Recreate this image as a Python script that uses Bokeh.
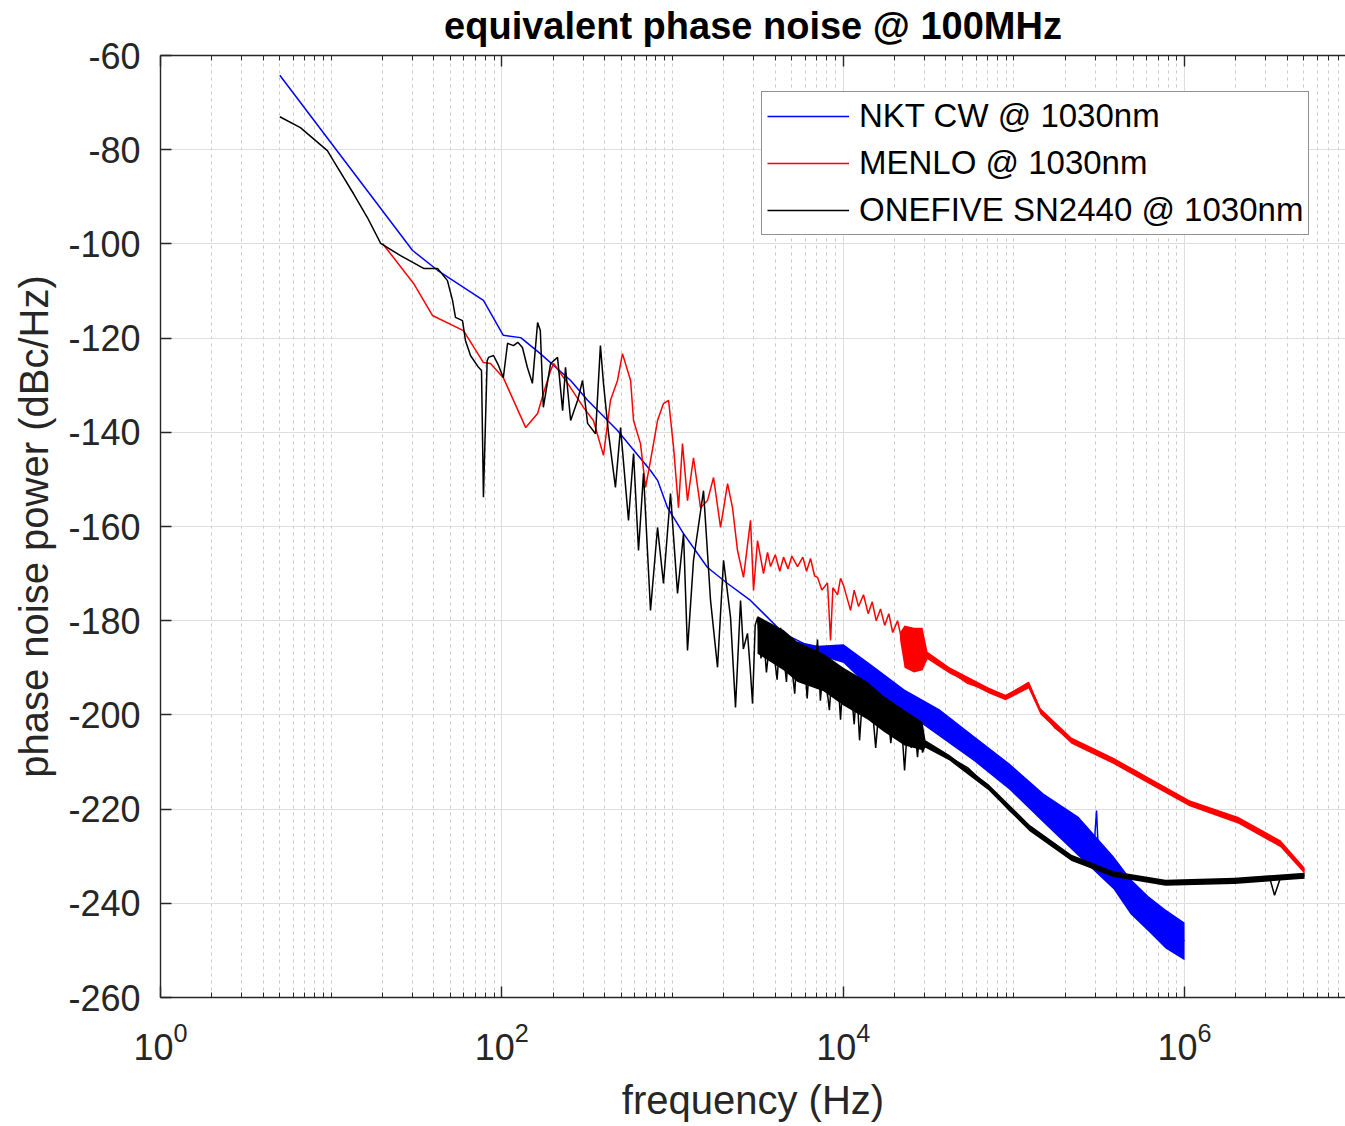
from bokeh.plotting import figure
from bokeh.models import FixedTicker, LogAxis, Legend, LegendItem
from bokeh.embed import file_html
from bokeh.resources import INLINE

# ---------------- data ----------------
x_ticks = [1, 100, 10000, 1000000]
y_ticks = [-260, -240, -220, -200, -180, -160, -140, -120, -100, -80, -60]
y_tick_labels = ["-260", "-240", "-220", "-200", "-180", "-160", "-140", "-120", "-100", "-80", "-60"]

nkt_freq = [5, 30, 42, 78, 102, 129, 168, 253, 318, 476, 743, 817, 935, 1160, 1603,
            2101, 2864, 3603, 4472, 7072, 10046, 14460, 22880, 36690, 58850, 94320,
            149200, 239300, 295000, 305000, 312000, 383700, 482700, 615200, 773900, 1000000]
nkt_psd = [-64.2, -101.4, -105.6, -112.0, -119.4, -119.9, -123.3, -129.0, -133.2, -139.6, -148.1,
           -150.2, -156.0, -161.5, -168.7, -172.1, -175.7, -179.3, -182.7, -186.3, -187.0, -191.8,
           -197.0, -201.7, -207.2, -213.1, -219.8, -225.8, -228.0, -220.3, -228.5, -233.6, -238.6,
           -242.3, -245.5, -248.0]
nkt_band_freq = [5401, 7072, 10046, 14460, 22880, 36690, 58850, 94320, 149200, 239300,
                 383700, 482700, 615200, 773900, 1000000]
nkt_band_hi = [-184.4, -185.3, -185.0, -189.2, -194.6, -198.8, -204.6, -210.3, -216.7, -221.6,
               -230.0, -234.8, -238.5, -241.3, -244.1]
nkt_band_lo = [-184.6, -187.3, -189.0, -194.5, -199.3, -204.6, -209.9, -215.9, -222.9, -230.0,
               -237.0, -242.3, -246.0, -249.6, -252.1]

menlo_freq = [20, 30.4, 39.2, 59.6, 78, 85.8, 102, 138, 162, 175, 193, 201, 243, 301, 344, 394,
              433, 476, 509, 568, 591, 649, 695, 743, 817, 885, 948, 1014, 1084, 1144, 1224, 1327,
              1459, 1603, 1739, 1911, 2101, 2246, 2403, 2606, 2864, 2983, 3148, 3413, 3603, 3752,
              4000, 4250, 4472, 4750, 5000, 5401, 5800, 6100, 6436, 6800, 7072, 7500, 8093, 8431,
              8700, 9265, 9647, 10046, 10500, 11040, 11600, 12300, 13150, 14000, 14800, 15600,
              16550, 17500, 18500, 19500, 20820, 22000, 29160, 32050, 41980, 53520, 71070, 89380,
              102300, 121900, 143300, 173100, 217700, 301000, 383700, 509300, 676100, 885800,
              1070000, 1561000, 2072000, 2750000, 3651000, 4411000, 5048000]
menlo_psd = [-99.9, -108.4, -115.2, -118.4, -125.2, -125.4, -128.4, -139.0, -136.0, -131.8,
             -126.9, -125.4, -129.6, -134.7, -137.5, -144.9, -133.2, -129.0, -123.3, -129.0,
             -137.5, -142.4, -151.7, -146.0, -137.5, -133.9, -133.2, -143.2, -156.0, -142.4,
             -154.5, -145.4, -156.0, -154.5, -149.6, -160.2, -150.9, -156.0, -165.1, -170.8,
             -158.7, -173.6, -163.0, -170.0, -165.5, -168.5, -166.0, -169.5, -166.5, -169.0,
             -166.3, -168.5, -166.5, -169.5, -166.8, -170.5, -170.8, -173.5, -172.0, -184.2,
             -173.0, -174.5, -171.0, -172.5, -175.0, -177.8, -173.5, -177.0, -174.5, -178.5,
             -176.0, -180.0, -177.5, -181.0, -178.5, -182.5, -180.0, -184.0, -185.7, -187.8,
             -190.6, -193.3, -194.8, -196.3, -194.8, -193.1, -199.1, -202.7, -205.4, -207.6,
             -209.7, -211.8, -214.6, -217.5, -218.8, -221.0, -222.4, -224.5, -227.3, -230.9,
             -233.0]
menlo_band_freq = [21500, 22880, 26000, 29160, 31190, 41980, 71070, 89380, 121900, 143300,
                   217700, 383700, 676100, 1070000, 2072000, 3651000, 5048000]
menlo_band_hi = [-182.5, -181.0, -181.5, -181.5, -186.6, -189.9, -194.2, -195.7, -193.1, -198.6,
                 -204.8, -209.1, -214.1, -218.1, -221.7, -226.6, -232.4]
menlo_band_lo = [-184.0, -190.0, -191.0, -190.5, -188.2, -191.2, -195.4, -196.9, -194.4, -199.9,
                 -206.1, -210.4, -215.4, -219.4, -223.1, -228.1, -233.7]

onefive_freq = [5, 6.6, 9.5, 10.3, 13.5, 16.3, 19.5, 25.5, 34.8, 42, 48, 51.4, 53.5, 58.8, 61.2,
                65.5, 73, 76, 78, 82, 83.5, 89.4, 95.6, 102, 108, 117, 124, 132, 141, 151, 162,
                168, 175, 193, 212, 227, 236, 253, 278, 297, 318, 354, 378, 394, 422, 463, 496,
                552, 591, 632, 676, 743, 817, 885, 973, 1070, 1160, 1224, 1327, 1519, 1670, 1835,
                1990, 2187, 2339, 2503, 2600, 2750, 2850, 2943, 3050, 3148, 3300, 3413, 3550,
                3752, 3900, 4100, 4300, 4472, 4650, 4800, 5000, 5200, 5401, 5650, 5900, 6150,
                6436, 6750, 7072, 7350, 7670, 8000, 8300, 8700, 9000, 9265, 9647, 10046, 10500,
                11040, 11600, 12000, 12470, 13000, 13890, 14500, 15500, 16300, 17230, 18000,
                19000, 20000, 20820, 21670, 22880, 24000, 25000, 26000, 27260, 28200, 29160,
                30370, 41980, 53520, 71070, 94320, 123600, 164000, 217700, 289000, 383700,
                509300, 773900, 1241000, 1963000, 3148000, 3368000, 3651000, 5048000]
onefive_psd = [-73.0, -75.3, -80.2, -82.3, -89.3, -94.4, -99.9, -102.5, -105.2, -105.2, -107.8,
               -112.0, -115.6, -116.3, -120.5, -123.7, -126.2, -126.9, -153.8, -124.8, -124.1,
               -123.7, -125.8, -128.4, -121.1, -121.6, -120.9, -122.0, -126.2, -129.6, -116.7,
               -118.4, -134.7, -125.4, -124.1, -135.4, -126.2, -137.5, -133.2, -129.0, -138.1,
               -140.3, -121.6, -129.6, -140.3, -151.7, -139.0, -158.7, -144.5, -165.1, -148.7,
               -177.8, -160.2, -172.1, -153.0, -174.2, -161.5, -186.3, -167.2, -152.4, -175.7,
               -189.9, -167.2, -179.3, -198.4, -175.7, -186.0, -182.7, -190.0, -197.6, -181.0,
               -179.3, -188.0, -183.0, -191.0, -182.7, -186.0, -192.5, -181.5, -187.0, -193.0,
               -185.0, -190.0, -195.5, -184.5, -192.0, -187.0, -196.5, -186.0, -193.0, -184.0,
               -197.0, -189.0, -194.0, -199.0, -188.5, -195.0, -191.0, -201.0, -190.5, -197.0,
               -193.0, -202.0, -194.0, -205.4, -195.5, -200.5, -194.5, -207.0, -197.5, -203.0,
               -196.5, -206.0, -199.0, -204.0, -198.5, -211.8, -200.5, -207.0, -201.0, -209.0,
               -202.5, -208.0, -206.1, -209.0, -211.2, -215.4, -220.3, -223.9, -227.3, -230.3,
               -232.4, -233.7, -234.7, -235.6, -235.6, -235.2, -234.5, -238.3, -234.5, -234.1]
onefive_band_freq = [3148, 4472, 5401, 7670, 10046, 13890, 17230, 22880, 29160, 30370,
                     41980, 71070, 123600, 217700, 383700, 773900, 1963000, 5048000]
onefive_band_hi = [-179.0, -182.0, -184.5, -187.0, -190.0, -193.0, -196.0, -199.0, -201.5,
                   -205.4, -208.5, -214.7, -223.3, -229.7, -233.2, -235.0, -234.6, -233.5]
onefive_band_lo = [-187.0, -190.5, -193.0, -195.0, -198.0, -201.0, -203.5, -206.5, -207.5,
                   -207.0, -209.7, -216.0, -224.7, -231.0, -234.4, -236.3, -235.9, -234.8]

# ---------------- figure ----------------
FONT = "Liberation Sans"
AX = "#262626"

minor = [m * 10 ** k for k in range(0, 7) for m in range(1, 10) if m * 10 ** k not in x_ticks]
xticker = FixedTicker(ticks=x_ticks, minor_ticks=minor)

p = figure(width=1345, height=1126, x_axis_type="log", x_range=(1, 8.77e6), y_range=(-260, -60),
           output_backend="svg", toolbar_location=None,
           min_border_left=160, min_border_right=0, min_border_top=55, min_border_bottom=129)
p.outline_line_color = None
p.background_fill_color = "white"
p.border_fill_color = "white"
p.title.text = ""

xa = p.xaxis[0]
xa.ticker = xticker
xa.axis_label = "frequency (Hz)"
ya = p.yaxis[0]
ya.ticker = FixedTicker(ticks=y_ticks)
ya.major_label_overrides = dict(zip(y_ticks, y_tick_labels))
ya.axis_label = "phase noise power (dBc/Hz)"
for ax in (xa, ya):
    ax.axis_line_color = AX
    ax.axis_line_width = 1.4
    ax.major_tick_line_color = AX
    ax.major_tick_line_width = 1.4
    ax.major_tick_in = 11
    ax.major_tick_out = 0
    ax.minor_tick_line_color = AX
    ax.minor_tick_in = 5
    ax.minor_tick_out = 0
    ax.major_label_text_font = FONT
    ax.major_label_text_font_size = "36px"
    ax.major_label_text_color = AX
    ax.axis_label_text_font = FONT
    ax.axis_label_text_font_size = "40px"
    ax.axis_label_text_font_style = "normal"
    ax.axis_label_text_color = AX
ya.minor_tick_line_color = None
ya.major_label_standoff = 20
ya.axis_label_standoff = 9
xa.major_label_standoff = 24
xa.axis_label_standoff = 15

# top axis carries the title as its axis label
top = LogAxis(ticker=xticker, major_label_text_font_size="1px", major_label_text_alpha=0,
              major_label_standoff=0,
              axis_line_color=AX, axis_line_width=1.4, major_tick_line_color=AX,
              major_tick_line_width=1.4, major_tick_in=11, major_tick_out=0,
              minor_tick_line_color=AX, minor_tick_in=5, minor_tick_out=0,
              axis_label="equivalent phase noise @ 100MHz", axis_label_standoff=9,
              axis_label_text_font=FONT, axis_label_text_font_size="38px",
              axis_label_text_font_style="bold", axis_label_text_color="#000000")
p.add_layout(top, "above")

p.xgrid.grid_line_color = "#dedede"
p.xgrid.grid_line_width = 1
p.xgrid.minor_grid_line_color = "#c9c9c9"
p.xgrid.minor_grid_line_dash = "3 4"
p.xgrid.minor_grid_line_width = 1
p.ygrid.grid_line_color = "#dedede"
p.ygrid.grid_line_width = 1

LW = 1.5
r_nkt = p.line(nkt_freq, nkt_psd, line_color="#0000ff", line_width=LW)
p.varea(x=nkt_band_freq, y1=nkt_band_lo, y2=nkt_band_hi, fill_color="#0000ff")
r_menlo = p.line(menlo_freq, menlo_psd, line_color="#ff0000", line_width=LW)
p.varea(x=menlo_band_freq, y1=menlo_band_lo, y2=menlo_band_hi, fill_color="#ff0000")
r_one = p.line(onefive_freq, onefive_psd, line_color="#000000", line_width=LW)
p.varea(x=onefive_band_freq, y1=onefive_band_lo, y2=onefive_band_hi, fill_color="#000000")

legend = Legend(items=[LegendItem(label="NKT CW @ 1030nm", renderers=[r_nkt]),
                       LegendItem(label="MENLO @ 1030nm", renderers=[r_menlo]),
                       LegendItem(label="ONEFIVE SN2440 @ 1030nm", renderers=[r_one])],
                location=(601, 762), orientation="vertical",
                label_text_font=FONT, label_text_font_size="33px", label_text_color="#000000",
                glyph_width=82, glyph_height=34, label_height=34, label_standoff=10,
                spacing=9, padding=5, margin=0,
                border_line_color=AX, border_line_width=1.4,
                background_fill_color="white", background_fill_alpha=1.0)
p.add_layout(legend)

open("out.html", "w").write(file_html(p, INLINE))
